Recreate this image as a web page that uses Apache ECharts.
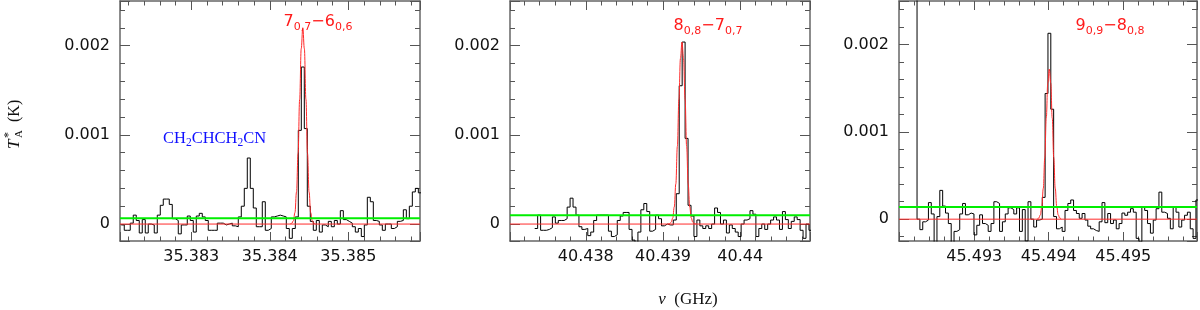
<!DOCTYPE html>
<html><head><meta charset="utf-8">
<script src="https://cdn.jsdelivr.net/npm/echarts@6/dist/echarts.min.js"></script>
<style>html,body{margin:0;padding:0;background:#fff;}#c{width:1200px;height:310px;}</style>
</head><body><div id="c"></div>
<script>
// ---------- data (intensities in units of 1e-4 K) ----------
const VALUE_UNIT = 1e-4;
const channelWidth = 0.0000382; // GHz

const p1Start = 35.382109; // left edge of first channel (GHz)
const p1Values = [
-0.1,-0.7,-0.7,0.1,1.0,0.4,-1.0,0.5,-1.0,0.0,
-0.1,-1.0,1.0,2.1,2.8,2.8,2.2,0.6,0.4,-1.1,
-0.1,-0.1,0.9,0.4,-0.9,0.9,1.2,0.8,0.4,-0.7,
-0.7,-0.7,0.1,0.1,-0.1,0.0,0.1,-0.2,-0.3,0.8,
2.0,4.0,7.4,4.0,1.8,-0.3,-0.3,2.5,-0.7,-0.5,
0.8,0.9,1.0,0.9,0.8,-0.5,-1.6,-0.5,0.8,10.5,
17.6,10.7,2.0,0.3,-0.7,0.4,-0.9,-0.1,-0.3,0.3,
-0.3,0.4,0.0,1.5,0.5,0.3,0.1,-0.3,-0.9,-0.5,
-1.4,-0.1,3.0,2.5,0.4,0.3,-0.1,-0.7,0.0,0.0,
-0.5,-0.3,0.3,0.4,1.6,0.6,2.0,3.6,4.0,3.5];

const p2Start = 40.437338;
const p2Values = [
-0.5,1.0,-0.7,-0.7,-0.6,-0.4,0.8,0.1,0.4,0.4,
0.6,1.9,2.9,1.9,1.0,-0.3,-0.6,-0.5,-1.3,-0.9,
0.4,1.0,1.0,1.0,1.0,-0.8,-1.4,-1.2,0.4,0.9,
1.3,1.3,-0.6,-1.8,-2.5,-0.9,1.6,2.3,1.4,-0.8,
-0.6,1.0,0.6,-0.2,0.0,-0.1,-0.1,0.45,3.4,15.5,
20.4,9.6,2.1,0.9,-1.4,0.45,-0.2,-0.5,-0.2,-0.5,
0.0,1.8,1.3,0.0,0.45,-1.0,-0.1,-0.5,-0.9,-1.4,
0.0,0.45,0.6,1.5,1.1,-1.4,-0.5,0.0,-0.6,0.0,
0.45,0.8,0.45,-0.6,1.4,0.5,-0.5,0.3,0.8,0.5,
-0.7,-1.6,0.0,-0.7];

const p3Start = 45.492194;
const p3Values = [
35,0.0,-1.2,-0.3,-0.1,1.9,0.6,-3.0,0.3,3.3,
1.5,0.7,-0.5,-2.8,-1.4,-1.2,0.6,1.8,0.5,0.7,
0.6,-1.8,-0.7,0.5,-0.5,-0.7,-1.4,-0.5,2.0,1.8,
-1.4,-0.3,0.6,1.3,1.1,0.6,1.3,-1.4,1.1,-2.5,
2.0,0.0,-0.9,-0.1,0.0,2.5,14.4,21.3,12.6,0.3,
-1.1,-0.9,-1.4,1.0,1.8,2.2,1.0,0.65,0.1,0.65,
-0.1,-0.8,-1.1,-1.3,-1.4,-0.3,1.9,-0.4,0.65,-0.5,
-0.1,-1.1,-0.5,0.7,0.45,0.8,1.2,0.8,-2.2,-2.6,
1.4,1.0,-0.5,-1.6,-0.1,1.2,3.1,0.8,0.65,0.1,
-1.1,1.4,0.8,-0.9,-0.1,0.45,0.8,-1.1,-2.2,2.2];

// Gaussian fits (red)
const fit1X = [35.38426,35.38428,35.38430,35.38432,35.38434,35.38436,35.38438,35.38440,35.38442,35.38444,35.38446,35.38448,35.38450,35.38452,35.38454,35.38456,35.38458];
const fit1Y = [0.015,0.085,0.37,1.29,3.59,7.93,13.98,19.65,22.0,19.65,13.98,7.93,3.59,1.29,0.37,0.085,0.015];
const fit2X = [40.439066,40.439086,40.439106,40.439126,40.439146,40.439166,40.439186,40.439206,40.439226,40.439246,40.439266,40.439286,40.439306,40.439326,40.439346,40.439366,40.439386,40.439406,40.439426];
const fit2Y = [0.01,0.048,0.2,0.68,1.92,4.5,8.71,13.98,18.56,20.4,18.56,13.98,8.71,4.5,1.92,0.68,0.2,0.048,0.01];
const fit3X = [45.493847,45.493867,45.493887,45.493907,45.493927,45.493947,45.493967,45.493987,45.494007,45.494027,45.494047,45.494067,45.494087,45.494107,45.494127,45.494147,45.494167];
const fit3Y = [0.03,0.136,0.49,1.46,3.54,7.07,11.59,15.58,17.2,15.58,11.59,7.07,3.54,1.46,0.49,0.136,0.03];

const greenLevels = [0.65, 1.0, 1.4];     // 1e-4 K
const xRanges = [[35.382093,35.385912],[40.437018,40.440904],[45.49199,45.49599]];
const yRanges = [[-0.00019,0.0025],[-0.00019,0.0025],[-0.00025,0.0025]];
const lineLabels = [['7','0,7','6','0,6'],['8','0,8','7','0,7'],['9','0,9','8','0,8']];

// ---------- chart ----------
const panels = [
  {start:p1Start, values:p1Values, fx:fit1X, fy:fit1Y},
  {start:p2Start, values:p2Values, fx:fit2X, fy:fit2Y},
  {start:p3Start, values:p3Values, fx:fit3X, fy:fit3Y}
];
const gridLefts = [120, 510, 899];
const frameColor = '#666';
const tickStyle = {color:'#555', width:1};
const labelFont = 'DejaVu Sans';

function makeFmt(lo, hi, pad){
  return function(v){
    if (v <= lo + pad || v >= hi - pad) return '';
    const k = Math.round(v*1000);
    if (Math.abs(v*1000 - k) > 1e-6) return '';
    return k === 0 ? '0' : String(k/1000);
  };
}

const grid = [], xAxis = [], yAxis = [], series = [];
panels.forEach((p, g) => {
  grid.push({left: gridLefts[g], top: 1, width: 300, height: 240, containLabel:false});
  const xr = xRanges[g], yr = yRanges[g];
  ['bottom','top'].forEach((pos) => {
    xAxis.push({type:'value', gridIndex:g, position:pos, min:xr[0], max:xr[1],
      splitNumber:3, minInterval:0.001, maxInterval:0.001,
      axisLine:{show:true, onZero:false, lineStyle:{color:frameColor, width:1.5}},
      axisTick:{show:true, inside:true, length:9, lineStyle:tickStyle},
      minorTick:{show:true, splitNumber:5, length:4.5, lineStyle:tickStyle},
      splitLine:{show:false}, minorSplitLine:{show:false},
      axisLabel:{show: pos==='bottom', margin:8, fontSize:16, fontFamily:labelFont, color:'#111',
        formatter:makeFmt(xr[0], xr[1], 0.00005)}
    });
  });
  ['left','right'].forEach((pos) => {
    yAxis.push({type:'value', gridIndex:g, position:pos, min:yr[0], max:yr[1],
      splitNumber:2, minInterval:0.001, maxInterval:0.001,
      axisLine:{show:true, onZero:false, lineStyle:{color:frameColor, width:1.5}},
      axisTick:{show:true, inside:true, length:10, lineStyle:tickStyle},
      minorTick:{show:true, splitNumber:5, length:5, lineStyle:tickStyle},
      splitLine:{show:false}, minorSplitLine:{show:false},
      axisLabel:{show: pos==='left', margin:10, fontSize:16, fontFamily:labelFont, color:'#111',
        formatter:makeFmt(yr[0], yr[1], 0.00001)}
    });
  });
  // histogram (step) data built from channel values
  const hist = p.values.map((v,i) => [p.start + i*channelWidth, v*VALUE_UNIT]);
  hist.push([p.start + p.values.length*channelWidth, p.values[p.values.length-1]*VALUE_UNIT]);
  series.push({type:'line', xAxisIndex:2*g, yAxisIndex:2*g, data:hist, step:'end', symbol:'none',
    lineStyle:{color:'#000', width:1}, clip:true, silent:true, z:2});
  // red baseline of fit
  series.push({type:'line', xAxisIndex:2*g, yAxisIndex:2*g, data:[[xr[0],0],[xr[1],0]], symbol:'none',
    lineStyle:{color:'#ff2a2a', width:1}, silent:true, z:3});
  // red Gaussian fit
  series.push({type:'line', xAxisIndex:2*g, yAxisIndex:2*g, data:p.fx.map((x,i)=>[x, p.fy[i]*VALUE_UNIT]), symbol:'none',
    smooth:0.4, smoothMonotone:'x', lineStyle:{color:'#ff2a2a', width:1}, clip:true, silent:true, z:3});
  // green level
  series.push({type:'line', xAxisIndex:2*g, yAxisIndex:2*g, data:[[xr[0],greenLevels[g]*VALUE_UNIT],[xr[1],greenLevels[g]*VALUE_UNIT]], symbol:'none',
    lineStyle:{color:'#00ee00', width:2}, silent:true, z:4});
});

const redRich = {
  m:{fontSize:16, fontFamily:labelFont, fill:'#ff1a1a', lineHeight:19, verticalAlign:'top'},
  s:{fontSize:11, fontFamily:labelFont, fill:'#ff1a1a', lineHeight:11, verticalAlign:'bottom'}
};
const labelCenters = [[318, 14], [708, 18], [1110, 18]];
const graphic = lineLabels.map((L, g) => ({
  type:'text', x: labelCenters[g][0], y: labelCenters[g][1], silent:true, z:10,
  style:{text:'{m|'+L[0]+'}{s|'+L[1]+'}{m|\u2212'+L[2]+'}{s|'+L[3]+'}', rich:redRich, align:'center', verticalAlign:'top'}
}));
const serif = 'Liberation Serif';
graphic.push({type:'text', x:163, y:130, silent:true, z:10,
  style:{text:'{m|CH}{s|2}{m|CHCH}{s|2}{m|CN}', align:'left', verticalAlign:'top',
    rich:{m:{fontSize:16.5, fontFamily:serif, fill:'#1010ff', lineHeight:19, verticalAlign:'top'},
          s:{fontSize:11.5, fontFamily:serif, fill:'#1010ff', lineHeight:11, verticalAlign:'bottom'}}}});
graphic.push({type:'text', x:688, y:300, silent:true, z:10,
  style:{text:'{i|\u03BD}{n|  (GHz)}', align:'center', verticalAlign:'middle',
    rich:{i:{fontSize:17, fontFamily:serif, fontStyle:'italic', fill:'#111'}, n:{fontSize:17, fontFamily:serif, fill:'#111'}}}});
graphic.push({type:'group', x:15, y:149, rotation:Math.PI/2, silent:true, children:[
  {type:'text', x:0, y:0, style:{text:'T', font:'italic 17px "Liberation Serif"', fill:'#111', align:'left', verticalAlign:'middle'}},
  {type:'text', x:11, y:-6, style:{text:'*', font:'12px "Liberation Serif"', fill:'#111', align:'left', verticalAlign:'middle'}},
  {type:'text', x:11, y:4, style:{text:'A', font:'11px "Liberation Serif"', fill:'#111', align:'left', verticalAlign:'middle'}},
  {type:'text', x:27, y:0, style:{text:'(K)', font:'16px "Liberation Serif"', fill:'#111', align:'left', verticalAlign:'middle'}}
]});

const chart = echarts.init(document.getElementById('c'), null, {renderer:'canvas'});
chart.setOption({animation:false, backgroundColor:'#fff', grid, xAxis, yAxis, series, graphic});
</script>
</body></html>
